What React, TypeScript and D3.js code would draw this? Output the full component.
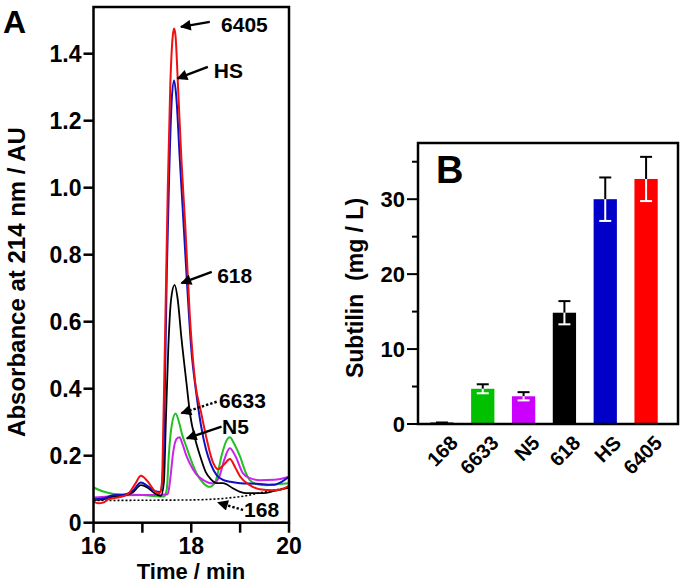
import React from "react";
import * as d3 from "d3";

type Pt = [number, number];

// Panel A: chromatograms (time min, absorbance AU)
const trace6405: Pt[] = [
  [16.0, 0.063], [16.1, 0.058], [16.2, 0.06], [16.3, 0.07], [16.5, 0.075], [16.7, 0.085],
  [16.85, 0.115], [16.97, 0.14], [17.1, 0.125], [17.25, 0.095], [17.35, 0.088], [17.4, 0.12],
  [17.43, 0.3], [17.47, 0.6], [17.52, 1.0], [17.57, 1.3], [17.62, 1.45], [17.65, 1.475],
  [17.68, 1.45], [17.73, 1.3], [17.8, 1.08], [17.88, 0.88], [17.97, 0.62], [18.08, 0.42],
  [18.2, 0.33], [18.3, 0.26], [18.42, 0.19], [18.55, 0.16], [18.68, 0.175], [18.79, 0.19],
  [18.9, 0.165], [19.0, 0.138], [19.2, 0.112], [19.4, 0.1], [19.67, 0.097], [19.85, 0.1], [20.0, 0.11],
];
const traceHS: Pt[] = [
  [16.0, 0.07], [16.2, 0.072], [16.4, 0.082], [16.6, 0.083], [16.8, 0.095], [16.97, 0.12],
  [17.1, 0.11], [17.25, 0.095], [17.37, 0.092], [17.42, 0.15], [17.46, 0.4], [17.5, 0.75],
  [17.55, 1.05], [17.6, 1.26], [17.65, 1.32], [17.7, 1.26], [17.76, 1.1], [17.84, 0.9],
  [17.92, 0.7], [18.0, 0.52], [18.1, 0.39], [18.2, 0.29], [18.3, 0.22], [18.4, 0.175],
  [18.52, 0.142], [18.65, 0.128], [18.8, 0.122], [19.0, 0.118], [19.34, 0.116], [19.67, 0.113],
  [19.85, 0.122], [20.0, 0.137],
];
const trace618: Pt[] = [
  [16.0, 0.068], [16.2, 0.07], [16.4, 0.078], [16.6, 0.08], [16.8, 0.09], [16.97, 0.112],
  [17.1, 0.105], [17.25, 0.088], [17.38, 0.08], [17.44, 0.12], [17.48, 0.3], [17.53, 0.52],
  [17.59, 0.67], [17.66, 0.71], [17.72, 0.67], [17.8, 0.55], [17.9, 0.42], [17.98, 0.32],
  [18.08, 0.25], [18.18, 0.2], [18.3, 0.15], [18.4, 0.13], [18.52, 0.118], [18.65, 0.118],
  [18.85, 0.103], [19.0, 0.092], [19.13, 0.088], [19.47, 0.088], [19.7, 0.095], [20.0, 0.105],
];
const trace6633: Pt[] = [
  [16.0, 0.105], [16.2, 0.093], [16.42, 0.086], [16.7, 0.084], [17.0, 0.083], [17.2, 0.08],
  [17.44, 0.078], [17.5, 0.1], [17.54, 0.2], [17.6, 0.29], [17.68, 0.326], [17.75, 0.3],
  [17.82, 0.26], [17.9, 0.227], [18.0, 0.185], [18.11, 0.147], [18.25, 0.118], [18.38, 0.107],
  [18.5, 0.125], [18.62, 0.2], [18.72, 0.245], [18.79, 0.255], [18.88, 0.235], [19.0, 0.197],
  [19.1, 0.155], [19.2, 0.127], [19.35, 0.115], [19.54, 0.112], [19.75, 0.115], [20.0, 0.118],
];
const traceN5: Pt[] = [
  [16.0, 0.075], [16.3, 0.078], [16.6, 0.082], [17.0, 0.083], [17.3, 0.083], [17.52, 0.085],
  [17.57, 0.13], [17.63, 0.21], [17.7, 0.25], [17.76, 0.255], [17.82, 0.235], [17.9, 0.2],
  [17.97, 0.177], [18.1, 0.145], [18.25, 0.127], [18.45, 0.117], [18.58, 0.14], [18.68, 0.19],
  [18.79, 0.222], [18.9, 0.2], [19.06, 0.147], [19.2, 0.133], [19.4, 0.127], [19.7, 0.128], [20.0, 0.137],
];
const trace168: Pt[] = [
  [16.0, 0.066], [17.0, 0.067], [18.0, 0.068], [18.7, 0.073], [19.1, 0.08], [19.5, 0.092],
  [19.8, 0.1], [20.0, 0.106],
];

const xTicksA = [16, 17, 18, 19, 20];
const xTickLabelsA = ["16", "", "18", "", "20"];
const yTicksA = [0, 0.2, 0.4, 0.6, 0.8, 1.0, 1.2, 1.4];
const yTickLabelsA = ["0", "0.2", "0.4", "0.6", "0.8", "1.0", "1.2", "1.4"];

// annotations: label, text anchor (t, v), arrow from (t, v) to (t, v), dotted
const annLabels = ["6405", "HS", "618", "6633", "N5", "168"];
const annText: Pt[] = [[18.61, 1.486], [18.46, 1.351], [18.53, 0.739], [18.57, 0.366], [18.63, 0.287], [19.08, 0.038]];
const annFrom: Pt[] = [[18.38, 1.495], [18.34, 1.361], [18.42, 0.749], [18.52, 0.361], [18.62, 0.287], [19.06, 0.038]];
const annTo: Pt[] = [[17.79, 1.48], [17.72, 1.326], [17.8, 0.715], [17.8, 0.327], [17.91, 0.252], [18.55, 0.06]];
const annDotted = [false, false, false, true, false, true];

// Panel B: bars
const barCategories = ["168", "6633", "N5", "618", "HS", "6405"];
const barValues = [0.2, 4.7, 3.7, 14.85, 30.0, 32.7];
const barErrors = [0, 0.6, 0.55, 1.55, 2.9, 2.95];
const barColors = ["#000000", "#00c000", "#cc00ff", "#000000", "#0000c8", "#ff0000"];
const yTicksB = [0, 10, 20, 30];
const yMinorB = [5, 15, 25, 35];

const FONT = "Arial, 'Liberation Sans', Helvetica, sans-serif";

export default function App() {
  // Panel A scales
  const xA = d3.scaleLinear().domain([16, 20]).range([93.5, 289]);
  const yA = d3.scaleLinear().domain([0, 1.4]).range([522.7, 53.7]);
  const topA = 7;
  const line = d3.line<Pt>().x((d) => xA(d[0])).y((d) => yA(d[1])).curve(d3.curveMonotoneX);

  const seriesA = [
    { data: trace168, color: "#000000", dash: "2,2", w: 1.6 },
    { data: trace6633, color: "#22c022", dash: "", w: 2 },
    { data: traceN5, color: "#cc22ee", dash: "", w: 2 },
    { data: trace618, color: "#000000", dash: "", w: 1.8 },
    { data: traceHS, color: "#1010c0", dash: "", w: 2 },
    { data: trace6405, color: "#ee1111", dash: "", w: 2 },
  ];

  // Panel B scales
  const xB = d3.scaleBand<string>().domain(barCategories).range([421.5, 666.5]).paddingInner(0.43).paddingOuter(0.215);
  const yB = d3.scaleLinear().domain([0, 37.5]).range([424, 143]);
  const bw = xB.bandwidth();
  const capW = 12;

  return (
    <svg width={685} height={584} style={{ position: "absolute", left: 0, top: 0, background: "#fff" }} fontFamily={FONT} fontWeight="bold">
      <defs>
        <marker id="ah" viewBox="0 0 10 10" refX="9" refY="5" markerWidth="5" markerHeight="4.5" orient="auto" markerUnits="strokeWidth">
          <path d="M0,0 L10,5 L0,10 z" fill="#000" />
        </marker>
      </defs>
      {/* Panel A */}
      <text x={3} y={33} fontSize={32}>A</text>
      <g>
        {seriesA.map((s, i) => (
          <path key={i} d={line(s.data) || ""} fill="none" stroke={s.color} strokeWidth={s.w} strokeDasharray={s.dash || undefined} strokeLinejoin="round" />
        ))}
        <rect x={xA(16)} y={topA} width={xA(20) - xA(16)} height={yA(0) - topA} fill="none" stroke="#000" strokeWidth={2.5} />
        {yTicksA.map((t, i) => (
          <g key={i}>
            <line x1={xA(16) - 10} x2={xA(16)} y1={yA(t)} y2={yA(t)} stroke="#000" strokeWidth={2.5} />
            <text x={xA(16) - 12} y={yA(t)} textAnchor="end" dominantBaseline="central" fontSize={23}>{yTickLabelsA[i]}</text>
          </g>
        ))}
        {xTicksA.map((t, i) => (
          <g key={i}>
            <line x1={xA(t)} x2={xA(t)} y1={yA(0)} y2={yA(0) + 10} stroke="#000" strokeWidth={2.5} />
            <text x={xA(t)} y={yA(0) + 23} textAnchor="middle" dominantBaseline="central" fontSize={23}>{xTickLabelsA[i]}</text>
          </g>
        ))}
        <text x={191} y={579} textAnchor="middle" fontSize={22}>Time / min</text>
        <text transform={`translate(25,282) rotate(-90)`} textAnchor="middle" fontSize={24}>Absorbance at 214 nm / AU</text>
        {annLabels.map((lab, i) => (
          <g key={i}>
            <line x1={xA(annFrom[i][0])} y1={yA(annFrom[i][1])} x2={xA(annTo[i][0])} y2={yA(annTo[i][1])} stroke="#000" strokeWidth={2.4} strokeDasharray={annDotted[i] ? "2.4,2" : undefined} markerEnd="url(#ah)" />
            <text x={xA(annText[i][0])} y={yA(annText[i][1])} dominantBaseline="central" fontSize={21}>{lab}</text>
          </g>
        ))}
      </g>
      {/* Panel B */}
      <g>
        {barCategories.map((c, i) => {
          const x0 = xB(c)!;
          const cx = x0 + bw / 2;
          const top = yB(barValues[i]);
          const hi = yB(barValues[i] + barErrors[i]);
          const lo = yB(barValues[i] - barErrors[i]);
          return (
            <g key={c}>
              <rect x={x0} y={top} width={bw} height={yB(0) - top} fill={barColors[i]} />
              {barErrors[i] > 0 ? (
                <g strokeWidth={2}>
                  <line x1={cx} x2={cx} y1={top} y2={hi} stroke="#000" />
                  <line x1={cx - capW / 2} x2={cx + capW / 2} y1={hi} y2={hi} stroke="#000" />
                  <line x1={cx} x2={cx} y1={top} y2={lo} stroke="#fff" />
                  <line x1={cx - capW / 2} x2={cx + capW / 2} y1={lo} y2={lo} stroke="#fff" />
                </g>
              ) : (
                <line x1={cx - capW / 2} x2={cx + capW / 2} y1={top} y2={top} stroke="#000" strokeWidth={2} />
              )}
              <text transform={`translate(${cx + 7},${yB(0) + 10}) rotate(-45)`} textAnchor="end" dominantBaseline="hanging" fontSize={20}>{c}</text>
            </g>
          );
        })}
        <rect x={418} y={yB(37.5)} width={678 - 418} height={yB(0) - yB(37.5)} fill="none" stroke="#000" strokeWidth={2.5} />
        {yTicksB.map((t) => (
          <g key={t}>
            <line x1={407} x2={418} y1={yB(t)} y2={yB(t)} stroke="#000" strokeWidth={2} />
            <text x={405} y={yB(t)} textAnchor="end" dominantBaseline="central" fontSize={22}>{t}</text>
          </g>
        ))}
        {yMinorB.map((t) => (
          <line key={t} x1={412} x2={418} y1={yB(t)} y2={yB(t)} stroke="#000" strokeWidth={2} />
        ))}
        <text x={436} y={183} fontSize={38}>B</text>
        <text transform={`translate(363,288) rotate(-90)`} textAnchor="middle" fontSize={23} style={{ whiteSpace: "pre" }}>{"Subtilin  (mg / L)"}</text>
      </g>
    </svg>
  );
}
